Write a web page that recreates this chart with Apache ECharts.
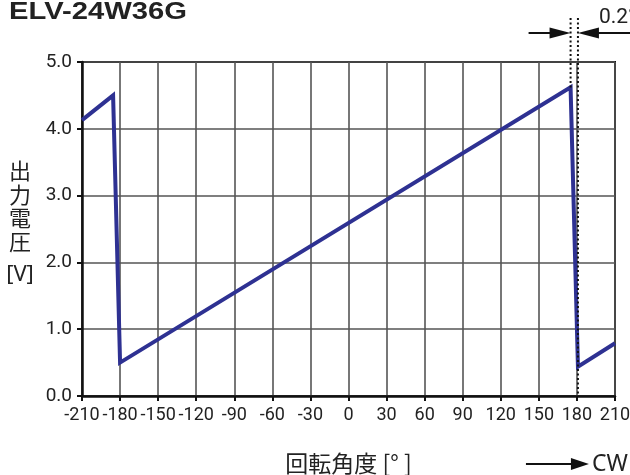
<!DOCTYPE html>
<html><head><meta charset="utf-8">
<script src="https://cdn.jsdelivr.net/npm/echarts@6/dist/echarts.min.js"></script>
<style>html,body{margin:0;padding:0;background:#fff}#c{width:630px;height:475px}</style>
</head><body><div id="c"></div>
<script>
// ---- data ----
const titleText = 'ELV-24W36G';
const angles   = [-210, -185.5, -180, 175, 180.8, 210];
const voltages = [4.13, 4.50, 0.50, 4.62, 0.44, 0.79];
const xTicks = {min: -210, max: 210, step: 30};
const yTicks = {min: 0, max: 5, step: 1};
const yName = ['出', '力', '電', '圧'];
const yUnit = '[V]';
const xName = '回転角度 [° ]';
const gapLabel = '0.2°';
const dirLabel = 'CW';
const gapAngles = [175, 180.8]; // dotted markers
const peakVoltage = 4.62;

const numFont = 'Roboto, "Noto Sans", sans-serif';
const cjkFont = '"Noto Sans CJK JP", sans-serif';
const lineColor = '#2e3192';

const chart = echarts.init(document.getElementById('c'));
const option = {
  animation: false,
  backgroundColor: '#fff',
  grid: {left: 82, right: 15, top: 62, bottom: 79, containLabel: false, outerBoundsMode: 'none',
         show: true, borderColor: '#111', borderWidth: 2, backgroundColor: 'transparent'},
  xAxis: {
    type: 'value', min: xTicks.min, max: xTicks.max, interval: xTicks.step,
    name: xName, nameLocation: 'middle', nameGap: 56,
    nameTextStyle: {fontFamily: cjkFont, fontSize: 23, color: '#222'},
    axisLine: {show: true, onZero: false, lineStyle: {color: '#111', width: 2.5}},
    axisTick: {show: true, length: 5, inside: false, lineStyle: {color: '#111', width: 2}},
    axisLabel: {fontFamily: numFont, fontSize: 18, color: '#222', margin: 10, showMinLabel: true, showMaxLabel: true, hideOverlap: false},
    splitLine: {show: true, lineStyle: {color: '#555', width: 1.6}}
  },
  yAxis: {
    type: 'value', min: yTicks.min, max: yTicks.max, interval: yTicks.step,
    axisLine: {show: true, onZero: false, lineStyle: {color: '#111', width: 2.5}},
    axisTick: {show: true, length: 5, lineStyle: {color: '#111', width: 2}},
    axisLabel: {fontFamily: numFont, fontSize: 19, color: '#222', margin: 10, formatter: v => v.toFixed(1), showMinLabel: true, showMaxLabel: true},
    splitLine: {show: true, lineStyle: {color: '#555', width: 1.6}}
  },
  series: [{
    type: 'line', showSymbol: false, symbol: 'none',
    data: angles.map((a, i) => [a, voltages[i]]),
    lineStyle: {color: lineColor, width: 4, join: 'miter'},
    z: 5
  }]
};
chart.setOption(option);

const px = (x, y) => chart.convertToPixel({gridIndex: 0}, [x, y]);
const pL = px(gapAngles[0], peakVoltage);
const pR0 = px(gapAngles[1], 0);
const topY = 18, arrY = 33, cwY = 464;
const dot = {stroke: '#111', lineWidth: 2, lineDash: [2, 2.5]};
const W = 630;
const cwTip = pR0[0] + 11;

chart.setOption({
  graphic: [
    {type: 'text', x: 9, y: 1, scaleX: 1.27, scaleY: 1, originX: 0, originY: 0,
     style: {text: titleText, font: 'bold 23px "Liberation Sans", Arial, sans-serif', fill: '#222', align: 'left', verticalAlign: 'top'}},
    {type: 'text', x: 20, y: 159, style: {text: yName.join('\n'), font: '22px ' + cjkFont, lineHeight: 23.5, fill: '#222', align: 'center', verticalAlign: 'top'}},
    {type: 'text', x: 20, y: 275, style: {text: yUnit, font: '22px "Noto Sans", sans-serif', fill: '#222', align: 'center', verticalAlign: 'middle'}},
    {type: 'line', shape: {x1: pL[0], y1: topY, x2: pL[0], y2: pL[1]}, style: dot, z: 10},
    {type: 'line', shape: {x1: pR0[0], y1: topY, x2: pR0[0], y2: pR0[1]}, style: dot, z: 10},
    {type: 'line', shape: {x1: pL[0] - 42, y1: arrY, x2: pL[0] - 18, y2: arrY}, style: {stroke: '#111', lineWidth: 2}},
    {type: 'polygon', shape: {points: [[pL[0], arrY], [pL[0] - 21, arrY - 5.5], [pL[0] - 21, arrY + 5.5]]}, style: {fill: '#111'}},
    {type: 'line', shape: {x1: pR0[0] + 18, y1: arrY, x2: W, y2: arrY}, style: {stroke: '#111', lineWidth: 2}},
    {type: 'polygon', shape: {points: [[pR0[0], arrY], [pR0[0] + 21, arrY - 5.5], [pR0[0] + 21, arrY + 5.5]]}, style: {fill: '#111'}},
    {type: 'text', x: pR0[0] + 21, y: 28, style: {text: gapLabel, font: '21px ' + numFont, fill: '#222', align: 'left', verticalAlign: 'bottom'}},
    {type: 'line', shape: {x1: cwTip - 63, y1: cwY, x2: cwTip - 15, y2: cwY}, style: {stroke: '#111', lineWidth: 2}},
    {type: 'polygon', shape: {points: [[cwTip, cwY], [cwTip - 18, cwY - 6], [cwTip - 18, cwY + 6]]}, style: {fill: '#111'}},
    {type: 'text', x: cwTip + 3, y: cwY, style: {text: dirLabel, font: '23px "Noto Sans", sans-serif', fill: '#222', align: 'left', verticalAlign: 'middle'}}
  ]
});
</script></body></html>
